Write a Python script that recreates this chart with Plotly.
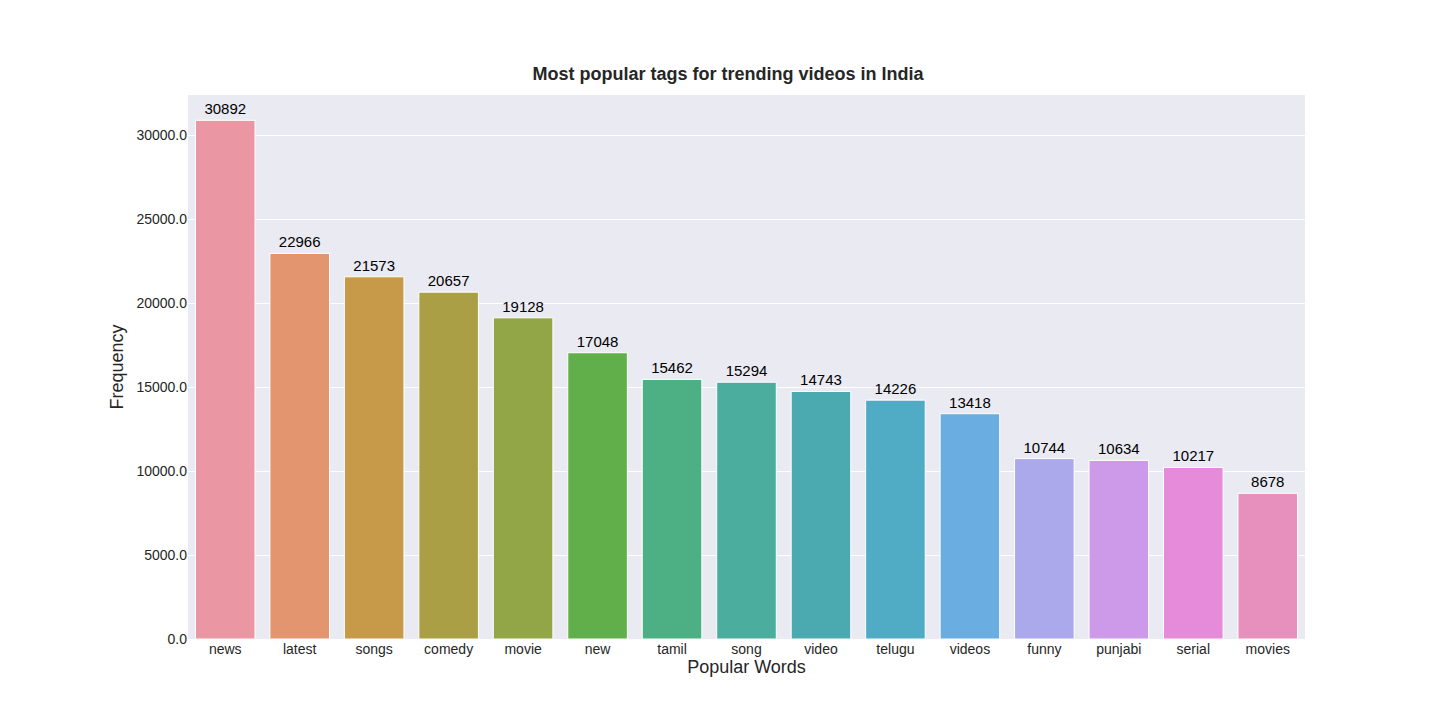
import plotly.graph_objects as go

words = ["news", "latest", "songs", "comedy", "movie", "new", "tamil", "song",
         "video", "telugu", "videos", "funny", "punjabi", "serial", "movies"]
counts = [30892, 22966, 21573, 20657, 19128, 17048, 15462, 15294,
          14743, 14226, 13418, 10744, 10634, 10217, 8678]
colors = ["#EA97A3", "#E39570", "#C79A4A", "#AA9F45", "#92A647", "#61AF4A",
          "#4CB084", "#4AAD9E", "#4BAAAF", "#4FACC4", "#6AADE0", "#ABA8EC",
          "#CC9AE8", "#E68ADA", "#E78FBD"]
yticks = [0, 5000, 10000, 15000, 20000, 25000, 30000]

fig = go.Figure(go.Bar(
    x=words, y=counts,
    marker=dict(color=colors, line=dict(color="white", width=1)),
    width=0.8,
    text=[str(c) for c in counts], textposition="outside",
    textfont=dict(color="black", size=15), cliponaxis=False,
))

fig.update_layout(
    width=1440, height=720,
    margin=dict(l=180, r=143, t=87, b=89),
    paper_bgcolor="white", plot_bgcolor="#EAEAF2",
    font=dict(family="Liberation Sans, Arial", color="#262626", size=14),
    title=dict(text="<b>Most popular tags for trending videos in India</b>",
               x=0.5, xanchor="center", y=0.9, yanchor="bottom",
               font=dict(size=18)),
    bargap=0.2, showlegend=False,
    uniformtext=dict(mode=False),
)
fig.update_traces(textangle=0)
fig.update_xaxes(title=dict(text="Popular Words", font=dict(size=18), standoff=4),
                 showgrid=False, ticks="", tickfont=dict(size=14))
fig.update_yaxes(title=dict(text="Frequency", font=dict(size=18), standoff=8),
                 range=[0, 32400], tickvals=yticks,
                 ticktext=[f"{v:.1f}" for v in yticks],
                 gridcolor="white", gridwidth=1, zeroline=False,
                 tickfont=dict(size=14))

fig.write_html("out.html")
